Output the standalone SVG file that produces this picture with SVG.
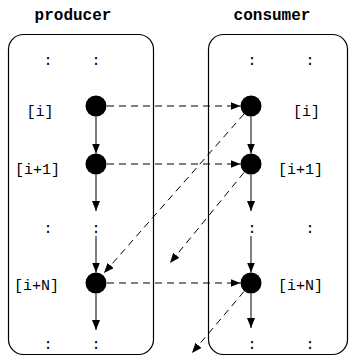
<svg xmlns="http://www.w3.org/2000/svg" width="349" height="357" viewBox="0 0 349 357">
<defs>
<marker id="ah" markerUnits="userSpaceOnUse" markerWidth="10" markerHeight="8" viewBox="0 0 10 8" refX="10" refY="4" orient="auto">
<path d="M0,0 L10,4 L0,8 Z" fill="#000"/>
</marker>
<style>
.box{fill:none;stroke:#000;stroke-width:1.2}
.node{fill:#000}
.lbl{font-family:"Liberation Mono",monospace;font-size:15px;fill:#000;text-anchor:middle}
.hd{font-family:"Liberation Mono",monospace;font-size:16px;font-weight:bold;fill:#000;text-anchor:middle}
.solid{stroke:#000;stroke-width:1;fill:none;marker-end:url(#ah)}
.dash{stroke:#000;stroke-width:1;fill:none;stroke-dasharray:7 5;marker-end:url(#ah)}
</style>
</defs>
<rect width="349" height="357" fill="#fff"/>
<g id="producer">
<text class="hd" x="73" y="20">producer</text>
<rect class="box" x="8.5" y="34.5" width="145" height="320" rx="15" ry="15"/>
<text class="lbl" x="48" y="65">:</text>
<text class="lbl" x="96" y="65">:</text>
<text class="lbl" x="48" y="233">:</text>
<text class="lbl" x="96" y="233">:</text>
<text class="lbl" x="48" y="349">:</text>
<text class="lbl" x="96" y="349">:</text>
<text class="lbl" x="40" y="116">[i]</text>
<text class="lbl" x="37.5" y="174">[i+1]</text>
<text class="lbl" x="36.5" y="290">[i+N]</text>
</g>
<g id="consumer">
<text class="hd" x="272" y="20">consumer</text>
<rect class="box" x="208.5" y="34.5" width="139" height="320" rx="15" ry="15"/>
<text class="lbl" x="252" y="65">:</text>
<text class="lbl" x="310" y="65">:</text>
<text class="lbl" x="252" y="233">:</text>
<text class="lbl" x="310" y="233">:</text>
<text class="lbl" x="252" y="349">:</text>
<text class="lbl" x="310" y="349">:</text>
<text class="lbl" x="306.5" y="116">[i]</text>
<text class="lbl" x="300.5" y="174">[i+1]</text>
<text class="lbl" x="300.5" y="290">[i+N]</text>
</g>
<g id="p_i"><circle class="node" cx="96" cy="106" r="10.5"/></g>
<g id="p_i1"><circle class="node" cx="96" cy="164" r="10.5"/></g>
<g id="p_iN"><circle class="node" cx="96" cy="283" r="10.5"/></g>
<g id="c_i"><circle class="node" cx="251" cy="106" r="10.5"/></g>
<g id="c_i1"><circle class="node" cx="251" cy="164" r="10.5"/></g>
<g id="c_iN"><circle class="node" cx="251" cy="283" r="10.5"/></g>
<g id="connectors">
<line class="solid" x1="96" y1="116.5" x2="96" y2="153.5"/>
<line class="solid" x1="96" y1="174.5" x2="96" y2="211"/>
<line class="solid" x1="96" y1="236" x2="96" y2="272.5"/>
<line class="solid" x1="96" y1="293.5" x2="96" y2="330"/>
<line class="solid" x1="251" y1="116.5" x2="251" y2="153.5"/>
<line class="solid" x1="251" y1="174.5" x2="251" y2="211"/>
<line class="solid" x1="251" y1="236" x2="251" y2="272.5"/>
<line class="solid" x1="251" y1="293.5" x2="251" y2="328"/>
<line class="dash" x1="107" y1="106" x2="240.5" y2="106"/>
<line class="dash" x1="107" y1="164" x2="240.5" y2="164"/>
<line class="dash" x1="107" y1="283" x2="240.5" y2="283"/>
<line class="dash" x1="244" y1="114" x2="104" y2="273"/>
<line class="dash" x1="244" y1="172.5" x2="170" y2="263"/>
<line class="dash" x1="244" y1="291.5" x2="192" y2="353"/>
</g>
</svg>
